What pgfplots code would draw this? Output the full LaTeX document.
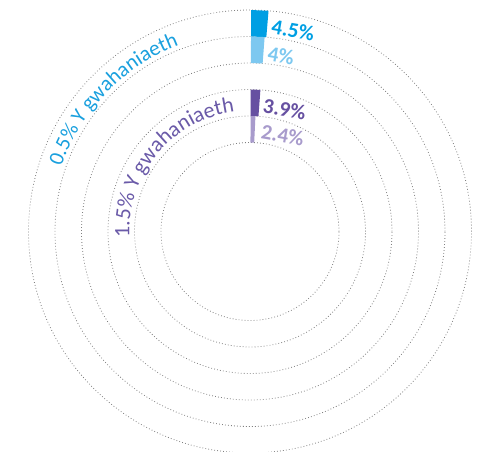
\documentclass[border=0pt]{standalone}
\usepackage{fontspec}
\setmainfont{Carlito}
\usepackage{pgfplots}
\pgfplotsset{compat=1.18}
\usetikzlibrary{decorations.text}
\definecolor{cA}{HTML}{009FE3}
\definecolor{cB}{HTML}{7DC8F0}
\definecolor{cC}{HTML}{6650A1}
\definecolor{cD}{HTML}{A89BCC}
\definecolor{tA}{HTML}{1AA0DE}
\definecolor{tC}{HTML}{6A5AA8}
\definecolor{ringc}{HTML}{808080}
\tikzset{ring/.style={ringc, line width=0.6pt, dash pattern=on 0.6pt off 1.65pt}}
\begin{document}
\begin{tikzpicture}
\begin{axis}[x=0.75pt,y=0.75pt,xmin=-250,xmax=232,ymin=-219.5,ymax=231.5,
  hide axis, clip=true]
% dotted rings
\draw[ring] (axis cs:0,0) circle[radius=166.125pt];
\draw[ring] (axis cs:0,0) circle[radius=146.25pt];
\draw[ring] (axis cs:0,0) circle[radius=126.375pt];
\draw[ring] (axis cs:0,0) circle[radius=106.5pt];
\draw[ring] (axis cs:0,0) circle[radius=86.625pt];
\draw[ring] (axis cs:0,0) circle[radius=66.75pt];
% bars (angle = 90 - percent, radius in px)
\addplot[data cs=polar, fill=cA, draw=none, mark=none] coordinates {(89.7,195) (89.7,221.5) (85.2,221.5) (85.2,195)};
\addplot[data cs=polar, fill=cB, draw=none, mark=none] coordinates {(89.7,168.5) (89.7,195) (85.7,195) (85.7,168.5)};
\addplot[data cs=polar, fill=cC, draw=none, mark=none] coordinates {(89.7,115.5) (89.7,142) (85.8,142) (85.8,115.5)};
\addplot[data cs=polar, fill=cD, draw=none, mark=none] coordinates {(89.7,89) (89.7,115.5) (87.3,115.5) (87.3,89)};
% value labels
\node[font=\fontsize{16}{18}\selectfont\bfseries, text=cA, rotate=-10] at (axis cs:43,201.5) {4.5\%};
\node[font=\fontsize{16}{18}\selectfont\bfseries, text=cB, rotate=-10] at (axis cs:31,176) {4\%};
\node[font=\fontsize{16}{18}\selectfont\bfseries, text=cC, rotate=-10] at (axis cs:34.5,122.5) {3.9\%};
\node[font=\fontsize{16}{18}\selectfont\bfseries, text=cD, rotate=-10] at (axis cs:32.7,96.5) {2.4\%};
% curved labels
\path[decorate, decoration={text along path, text align=center, text color=tA,
  text={|\fontsize{16}{18}\selectfont|0.5{\%} Y gwahaniaeth}}]
  (axis cs:0,0) ++(176:149.5pt) arc[start angle=176, end angle=96, radius=149.5pt];
\path[decorate, decoration={text along path, text align=center, text color=tC,
  text={|\fontsize{16.5}{18}\selectfont|1.5{\%} Y gwahaniaeth}}]
  (axis cs:0,0) ++(187:90.5pt) arc[start angle=187, end angle=93, radius=90.5pt];
\end{axis}
\pgfresetboundingbox
\path (current axis.south west) rectangle (current axis.north east);
\end{tikzpicture}
\end{document}
